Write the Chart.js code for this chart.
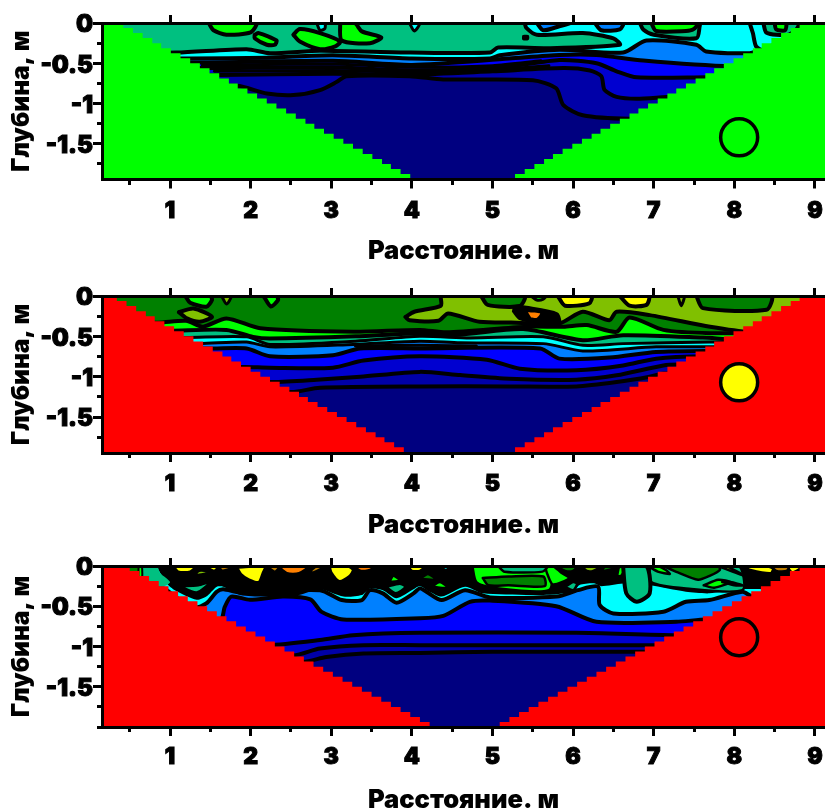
<!DOCTYPE html>
<html>
<head>
<meta charset="utf-8">
<style>
  html, body { margin: 0; padding: 0; background: #fff; overflow: hidden; }
  canvas { position: absolute; left: 0; }
</style>
<script src="https://cdn.jsdelivr.net/npm/chart.js@4"></script>
</head>
<body>
<canvas id="panel1" width="825" height="270" style="top:0"></canvas>
<canvas id="panel2" width="825" height="270" style="top:270px"></canvas>
<canvas id="panel3" width="825" height="272" style="top:540px"></canvas>
<script>
// Axis values
const xTicks = [1, 2, 3, 4, 5, 6, 7, 8, 9];
const xMinorTicks = [0.5, 1.5, 2.5, 3.5, 4.5, 5.5, 6.5, 7.5, 8.5];
const yTicks = [0, -0.5, -1, -1.5];
const yMinorTicks = [-0.25, -0.75, -1.25, -1.75];
const yMinorTicksLong = [-0.25, -0.75, -1.25, -1.75, -2];
const xTitle = "Расстояние. м";
const yTitle = "Глубина, м";

// Palette
const navy = "#000080", deep = "#0000a8", strong = "#0000d0", blue = "#0000ff", sky = "#0080ff";
const cyan = "#00ffff", teal = "#00c080", lime = "#00ff00", forest = "#008000", olive = "#80c000";
const yellow = "#ffff00", orange = "#ff8000", brown = "#c08000", black = "#000000", red = "#ff0000";

// Stair steps of the blanked flanks: depths shared, x read per panel
const stairY = [0, -0.0625, -0.125, -0.1875, -0.25, -0.3125, -0.375, -0.4375, -0.5, -0.5625, -0.625, -0.6875, -0.75, -0.8125, -0.875, -0.9375, -1, -1.0625, -1.125, -1.1875, -1.25, -1.3125, -1.375, -1.4375, -1.5, -1.5625, -1.625, -1.6875, -1.75, -1.8125, -1.875, -1.9375, -2];
const p1LeftX = [0.3, 0.42, 0.54, 0.66, 0.78, 0.89, 1.01, 1.13, 1.25, 1.37, 1.49, 1.61, 1.73, 1.84, 1.96, 2.08, 2.2, 2.32, 2.44, 2.56, 2.68, 2.79, 2.91, 3.03, 3.15, 3.27, 3.39, 3.51, 3.63, 3.74, 3.86, 3.98, 4.1];
const p2LeftX = [0.22, 0.34, 0.46, 0.58, 0.7, 0.81, 0.93, 1.05, 1.17, 1.29, 1.41, 1.53, 1.65, 1.76, 1.88, 2, 2.12, 2.24, 2.36, 2.48, 2.6, 2.71, 2.83, 2.95, 3.07, 3.19, 3.31, 3.43, 3.55, 3.66, 3.78, 3.9, 4.02];
const p3LeftX = [0.38, 0.5, 0.62, 0.74, 0.86, 0.98, 1.1, 1.22, 1.34, 1.46, 1.58, 1.7, 1.82, 1.94, 2.06, 2.18, 2.3, 2.42, 2.54, 2.66, 2.78, 2.9, 3.02, 3.14, 3.26, 3.38, 3.5, 3.62, 3.74, 3.86, 3.98, 4.1, 4.22];
const p1RightX = [8.93, 8.81, 8.7, 8.58, 8.46, 8.34, 8.23, 8.11, 7.99, 7.87, 7.75, 7.64, 7.52, 7.4, 7.28, 7.17, 7.05, 6.93, 6.81, 6.7, 6.58, 6.46, 6.34, 6.23, 6.11, 5.99, 5.87, 5.75, 5.64, 5.52, 5.4, 5.28, 5.17];
const p2RightX = [8.93, 8.81, 8.7, 8.58, 8.46, 8.34, 8.23, 8.11, 7.99, 7.87, 7.75, 7.64, 7.52, 7.4, 7.28, 7.17, 7.05, 6.93, 6.81, 6.7, 6.58, 6.46, 6.34, 6.23, 6.11, 5.99, 5.87, 5.75, 5.64, 5.52, 5.4, 5.28, 5.17];
const p3RightX = [8.93, 8.81, 8.69, 8.57, 8.45, 8.33, 8.21, 8.09, 7.97, 7.85, 7.73, 7.61, 7.49, 7.37, 7.25, 7.13, 7.01, 6.89, 6.77, 6.65, 6.53, 6.41, 6.29, 6.17, 6.05, 5.93, 5.81, 5.69, 5.57, 5.45, 5.33, 5.21, 5.09];

// Whole section behind the contours
const sectionBox = [[0, 0], [9.3, 0], [9.3, -2.2], [0, -2.2]];

// Panel 1 contours
const p1A = [[0.1, -0.76], [1.83, -0.78], [2.2, -0.875], [2.53, -0.895], [2.86, -0.833], [3.07, -0.73], [3.19, -0.66], [3.97, -0.66], [4.39, -0.7], [5.5, -0.71], [5.79, -0.81], [5.88, -1.02], [6.12, -1.146], [6.7, -1.19], [9.3, -1.2]];
const p1L1 = [[0.1, -0.64], [1.62, -0.645], [3.02, -0.63], [4, -0.64], [5, -0.6], [5.88, -0.56], [6.21, -0.59], [6.35, -0.66], [6.39, -0.83], [6.54, -0.917], [6.79, -0.94], [7.24, -0.917], [9.3, -0.9]];
const p1L2 = [[0.1, -0.56], [1.5, -0.56], [3.02, -0.55], [4, -0.59], [5.13, -0.55], [5.83, -0.46], [6.29, -0.5], [6.54, -0.6], [6.79, -0.675], [7.65, -0.675], [9.3, -0.67]];
const p1L3 = [[0.1, -0.49], [1.37, -0.49], [3.02, -0.47], [4, -0.52], [5.21, -0.44], [5.83, -0.396], [6.29, -0.396], [6.87, -0.467], [7.98, -0.54], [9.3, -0.54]];
const p1L4 = [[0.1, -0.44], [1.25, -0.44], [2.2, -0.43], [3.02, -0.4], [4, -0.44], [4.97, -0.44], [5.09, -0.4], [5.83, -0.333], [6.62, -0.367], [6.91, -0.217], [7.53, -0.27], [7.65, -0.354], [8.19, -0.375], [8.36, -0.325], [9.3, -0.32]];
const p1L5 = [[0.1, -0.367], [1.08, -0.367], [1.95, -0.325], [2.24, -0.375], [2.86, -0.345], [3.98, -0.367], [4.97, -0.367], [5.07, -0.305], [5.71, -0.313], [6.58, -0.27], [6.5, -0.19], [6.12, -0.125], [5.55, -0.146], [5.42, -0.06], [5.4, 0]];
const p1Extra1 = [[1.4, -0.525], [3.02, -0.51], [4, -0.55], [5, -0.53], [5.6, -0.47]];
const p1Extra2 = [[1.55, -0.6], [3.02, -0.59], [4, -0.61], [5, -0.58], [5.7, -0.53]];
const p1Isle1 = [[1.48, 0], [1.54, -0.09], [1.7, -0.146], [2, -0.117], [2.07, 0]];
const p1Isle2 = [[2.05, -0.146], [2.1, -0.125], [2.32, -0.217], [2.3, -0.27], [2.2, -0.27], [2.05, -0.19]];
const p1Isle3 = [[2.53, -0.146], [2.61, -0.075], [2.86, -0.125], [3.11, -0.23], [3.05, -0.29], [2.86, -0.325], [2.61, -0.23]];
const p1Isle4 = [[3.11, 0], [3.13, -0.217], [3.48, -0.25], [3.62, -0.18], [3.38, -0.104], [3.29, 0]];
const p1Isle5 = [[2.82, 0], [2.86, -0.09], [2.92, -0.07], [2.92, 0]];
const p1Isle6 = [[3.97, 0], [4.03, -0.1], [4.1, 0]];
const p1Isle7 = [[5.38, -0.16], [5.44, -0.16], [5.44, -0.2], [5.38, -0.2]];
const p1Top1 = [[5.55, 0], [5.63, -0.09], [5.83, -0.04], [5.96, 0]];
const p1Top2 = [[6.27, 0], [6.35, -0.09], [6.58, -0.08], [6.62, 0]];
const p1Ring = [[6.83, 0], [6.87, -0.08], [7, -0.146], [7.53, -0.19], [7.57, -0.04], [7.57, 0]];
const p1RingCore = [[6.97, 0], [7.03, -0.1], [7.4, -0.1], [7.49, -0.08], [7.55, 0]];
const p1Right = [[8.19, 0], [8.23, -0.125], [8.27, -0.29], [8.36, -0.34], [9.3, -0.34], [9.3, 0]];
const p1RightTeal = [[8.38, -0.34], [8.5, -0.22], [8.9, -0.1], [9.3, -0.1], [9.3, -0.34]];
const p1RightLoop = [[8.36, 0], [8.4, -0.12], [8.65, -0.15], [8.77, -0.08], [8.8, 0]];
const p1RightCore = [[8.5, 0], [8.52, -0.08], [8.63, -0.09], [8.64, 0]];

// Panel 2 contours
const p2C1 = [[0.1, -1.19], [2.51, -1.19], [2.86, -1.137], [4.1, -1.12], [5.21, -1.12], [6.04, -1.12], [6.54, -1.066], [6.95, -1], [7.12, -0.96], [9.3, -0.95]];
const p2C2 = [[0.1, -1.07], [2.28, -1.066], [2.82, -1.037], [3.36, -1], [4.1, -0.94], [4.6, -0.98], [5.21, -1.025], [6.04, -1.037], [6.54, -0.983], [7.12, -0.86], [7.32, -0.85], [9.3, -0.85]];
const p2C3 = [[0.1, -0.88], [1.93, -0.88], [2.24, -0.888], [3.02, -0.888], [3.4, -0.8], [4.1, -0.747], [4.93, -0.79], [5.34, -0.9], [6.04, -0.92], [6.62, -0.86], [7.03, -0.776], [7.61, -0.747], [9.3, -0.74]];
const p2C4 = [[0.1, -0.65], [1.54, -0.65], [1.95, -0.65], [2.24, -0.747], [3.02, -0.734], [3.36, -0.65], [4.1, -0.65], [5.59, -0.65], [5.83, -0.776], [6.45, -0.763], [7.03, -0.693], [7.65, -0.68], [9.3, -0.68]];
const p2C5 = [[0.1, -0.59], [1.37, -0.59], [1.95, -0.57], [2.24, -0.63], [3.27, -0.6], [4.1, -0.56], [4.6, -0.58], [5.63, -0.59], [6.12, -0.68], [7.03, -0.63], [7.7, -0.63], [9.3, -0.63]];
const p2C6 = [[0.1, -0.515], [1.2, -0.515], [1.95, -0.506], [2.24, -0.6], [3.3, -0.56], [4.1, -0.5], [4.72, -0.52], [5.63, -0.506], [6.12, -0.61], [6.62, -0.59], [7.7, -0.57], [9.3, -0.57]];
const p2C7 = [[0.1, -0.43], [1, -0.43], [1.7, -0.42], [2.03, -0.506], [2.24, -0.527], [3.3, -0.5], [4.1, -0.46], [4.55, -0.48], [5.38, -0.41], [6.12, -0.548], [6.62, -0.486], [7.61, -0.515], [8.02, -0.54], [9.3, -0.54]];
const p2C8 = [[0.1, -0.33], [0.86, -0.33], [1.2, -0.307], [1.41, -0.38], [1.7, -0.278], [2.12, -0.4], [3.27, -0.444], [4.1, -0.42], [4.43, -0.45], [5.42, -0.38], [5.88, -0.38], [6.17, -0.36], [6.54, -0.444], [6.7, -0.266], [7.12, -0.42], [7.7, -0.46], [9.3, -0.46]];
const p2Extra = [[3.3, -0.62], [4.1, -0.61], [4.8, -0.62]];
const p2Olive = [[3.92, -0.26], [4.03, -0.195], [4.36, -0.12], [4.37, 0], [9.3, 0], [9.3, -0.45], [8.19, -0.444], [7.7, -0.38], [6.95, -0.237], [6.54, -0.195], [6.45, -0.3], [6.12, -0.195], [5.83, -0.34], [5.3, -0.33], [4.84, -0.32], [4.45, -0.216], [4.33, -0.307], [3.97, -0.3]];
const p2Dark1 = [[4.86, 0], [4.94, -0.11], [5.34, -0.124], [5.4, 0]];
const p2Dark2 = [[7.53, 0], [7.61, -0.15], [8.4, -0.17], [8.46, 0]];
const p2Sun1 = [[5.81, 0], [5.9, -0.12], [6.2, -0.09], [6.23, 0]];
const p2Sun2 = [[6.58, 0], [6.7, -0.12], [6.91, -0.11], [6.94, 0]];
const p2Nick = [[7.3, 0], [7.34, -0.12], [7.38, 0]];
const p2Blob = [[5.26, -0.19], [5.34, -0.28], [5.62, -0.34], [5.83, -0.35], [5.8, -0.22], [5.42, -0.14], [5.28, -0.13]];
const p2Ember = [[5.44, -0.2], [5.59, -0.215], [5.55, -0.27], [5.48, -0.265]];
const p2Spark = [[5.48, 0], [5.55, -0.05], [5.63, -0.04], [5.66, 0]];
const p2West1 = [[1.19, 0], [1.25, -0.083], [1.45, -0.133], [1.52, -0.05], [1.5, 0]];
const p2West2 = [[1.11, -0.2], [1.29, -0.154], [1.52, -0.257], [1.37, -0.32], [1.21, -0.278]];
const p2West3 = [[1.64, 0], [1.7, -0.1], [1.76, 0]];
const p2West4 = [[2.16, 0], [2.25, -0.13], [2.34, -0.05], [2.32, 0]];

// Panel 3 contours
const p3D1 = [[0.1, -1.19], [2.65, -1.19], [2.94, -1.13], [3.4, -1.087], [4.1, -1.08], [5, -1.066], [6.95, -1.066], [9.3, -1.066]];
const p3D2 = [[0.1, -1.11], [2.53, -1.11], [2.86, -1.025], [3.4, -0.983], [4.1, -0.983], [5.2, -0.983], [7.16, -0.983], [9.3, -0.983]];
const p3D3 = [[0.1, -0.983], [2.22, -0.983], [2.86, -0.92], [3.27, -0.86], [4.1, -0.83], [6.04, -0.83], [7.28, -0.86], [9.3, -0.86]];
const p3D4 = [[0.1, -0.67], [1.62, -0.67], [1.68, -0.506], [1.76, -0.38], [1.99, -0.42], [2.4, -0.38], [2.74, -0.415], [2.88, -0.57], [3.15, -0.664], [4.1, -0.65], [4.39, -0.62], [4.72, -0.445], [4.97, -0.43], [5.79, -0.5], [6.29, -0.693], [7.28, -0.693], [7.65, -0.664], [9.3, -0.66]];
const p3D5 = [[0.1, -0.28], [0.92, -0.28], [1.06, -0.38], [1.31, -0.515], [1.45, -0.465], [1.58, -0.32], [1.66, -0.29], [1.87, -0.33], [2.86, -0.3], [3.13, -0.423], [3.38, -0.423], [3.48, -0.3], [3.64, -0.34], [3.81, -0.456], [4.02, -0.34], [4.1, -0.278], [4.18, -0.32], [4.37, -0.423], [4.66, -0.3], [4.97, -0.39], [5.8, -0.38], [6.06, -0.3], [6.31, -0.257], [6.33, -0.485], [6.5, -0.59], [7.12, -0.568], [7.4, -0.444], [7.69, -0.423], [8.1, -0.32], [8.23, -0.38], [9.3, -0.38]];
const p3Mesh = [[0.83, 0], [0.88, -0.09], [0.96, -0.216], [1.06, -0.3], [1.33, -0.42], [1.45, -0.38], [1.58, -0.257], [1.66, -0.257], [1.87, -0.36], [2.16, -0.38], [2.6, -0.36], [2.86, -0.29], [3.15, -0.38], [3.38, -0.36], [3.48, -0.278], [3.64, -0.3], [3.81, -0.4], [4.02, -0.29], [4.1, -0.25], [4.22, -0.32], [4.37, -0.38], [4.66, -0.257], [4.88, -0.34], [5.63, -0.36], [6, -0.32], [6.08, -0.236], [6.27, -0.216], [6.35, -0.25], [6.62, -0.216], [6.95, -0.24], [7.4, -0.32], [7.69, -0.34], [8.05, -0.29], [8.5, -0.29], [9.3, -0.29], [9.3, 0]];
const p3West = [[0, -0.3], [0.92, -0.25], [1, -0.2], [0.88, -0.09], [0.83, 0], [0, 0]];
const p3Stripe1 = [[0.48, 0], [0.48, -0.13], [0.61, -0.13], [0.61, 0]];
const p3Stripe2 = [[0.61, 0], [0.61, -0.19], [0.65, -0.19], [0.65, 0]];
const p3BaseMid = [[4.75, 0], [5.7, 0], [5.7, -0.3], [5, -0.27], [4.8, -0.2]];
const p3BaseEast = [[6.95, 0], [8.05, 0], [8.1, -0.3], [7.4, -0.28], [6.97, -0.2]];
const p3Yellow = [
  [[1.04, 0], [1.1, -0.07], [1.25, -0.07], [1.32, 0]],
  [[1.42, 0], [1.55, -0.06], [1.6, 0]],
  [[1.83, -0.02], [1.88, -0.1], [1.98, -0.17], [2.1, -0.2], [2.15, -0.09], [2.18, 0]],
  [[2.98, 0], [3, -0.08], [3.1, -0.19], [3.22, -0.13], [3.27, -0.05], [3.2, 0]],
  [[3.95, 0], [4, -0.06], [4.1, -0.06], [4.17, 0]],
  [[8.08, 0], [8.2, -0.05], [8.45, -0.09], [8.48, -0.03], [8.35, 0]],
  [[8.65, 0], [8.72, -0.08], [8.85, 0]]
];
const p3Brown = [
  [[1.6, 0], [1.65, -0.06], [1.78, -0.02], [1.8, 0]],
  [[2.2, 0], [2.3, -0.07], [2.36, 0]],
  [[2.72, -0.08], [2.78, -0.08], [2.93, 0], [2.82, 0]],
  [[8.45, 0], [8.52, -0.06], [8.65, -0.06], [8.68, 0]]
];
const p3Orange = [
  [[2.34, 0], [2.45, -0.09], [2.6, -0.09], [2.72, 0]],
  [[3.28, 0], [3.36, -0.06], [3.48, -0.05], [3.52, 0]]
];
const p3Olive = [
  [[1.3, -0.12], [1.42, -0.1], [1.48, -0.07], [1.36, -0.06]],
  [[6.1, 0], [6.17, -0.06], [6.25, -0.06], [6.35, 0]],
  [[7.8, 0], [8.12, -0.12], [8, -0.05], [7.9, 0]]
];
const p3Lime = [
  [[3.72, -0.2], [3.77, -0.12], [3.85, -0.18]],
  [[4.25, -0.25], [4.35, -0.2], [4.45, -0.27], [4.35, -0.27]],
  [[5.65, 0], [5.68, -0.1], [5.75, -0.23], [5.95, -0.15], [5.85, -0.08], [5.75, 0]],
  [[6.57, 0], [6.55, -0.12], [6.6, -0.12], [6.65, 0]],
  [[6.93, 0], [7.05, -0.07], [7.2, -0.1], [7.15, -0.05], [7.05, 0]],
  [[7.62, -0.24], [7.8, -0.17], [7.95, -0.2], [7.75, -0.27]]
];
const p3Teal = [
  [[1.12, -0.25], [1.33, -0.33], [1.5, -0.2], [1.35, -0.24]],
  [[3.68, -0.26], [3.8, -0.34], [3.92, -0.26], [3.85, -0.22]],
  [[5.07, 0], [5.15, -0.07], [5.62, -0.07], [5.68, 0]],
  [[5.9, -0.26], [6, -0.2], [6.05, -0.22], [6, -0.3]],
  [[7.85, -0.2], [8, -0.24], [8.1, -0.24], [7.95, -0.2]]
];
const p3Forest = [
  [[4.1, -0.16], [4.2, -0.1], [4.3, -0.17]],
  [[4.88, -0.15], [5.2, -0.13], [5.63, -0.13], [5.65, -0.25], [5.2, -0.24], [4.95, -0.24]],
  [[5.8, 0], [5.9, -0.06], [6, -0.06], [6.05, 0]],
  [[6.35, -0.07], [6.55, -0.02], [6.62, 0], [6.4, 0]],
  [[7.12, 0], [7.3, -0.08], [7.55, -0.17], [7.7, -0.12], [7.82, -0.05], [7.8, 0]]
];
const p3Cyan = [
  [[4.35, 0], [4.42, -0.05], [4.48, 0]]
];
const p3Lobe = [[6.62, 0], [6.66, -0.34], [6.79, -0.444], [6.95, -0.34], [6.91, 0]];

// Electrode marker of each panel: x, depth
const p1Marker = [8.06, -1.42];
const p2Marker = [8.06, -1.07];
const p3Marker = [8.06, -0.885];

const X_MIN = 0.156, X_MAX = 9.125;
const LABEL_DROP = 0.025; // y labels sit a hair under their ticks
const TEXT_FONT = { family: "Inter, 'DejaVu Sans'", weight: 900 };
const W = 4;

// Each layer: points, colour, how the shape is closed, contour width. First in the list is painted first.
const p1Layers = [
  [sectionBox, navy, "loop", 0],
  [p1A, deep, "top", W], [p1L1, strong, "top", W], [p1L2, blue, "top", W], [p1L3, sky, "top", W],
  [p1L4, cyan, "top", W], [p1L5, teal, "top", W],
  [p1Extra1, null, "open", 3], [p1Extra2, null, "open", 3],
  [p1Isle1, lime, "loop", W], [p1Isle2, lime, "loop", W], [p1Isle3, lime, "loop", W], [p1Isle4, lime, "loop", W],
  [p1Isle5, cyan, "loop", 3], [p1Isle6, cyan, "loop", 3], [p1Isle7, black, "loop", 2],
  [p1Top1, sky, "loop", W], [p1Top2, sky, "loop", W], [p1Ring, teal, "loop", W], [p1RingCore, lime, "loop", W],
  [p1Right, cyan, "loop", W], [p1RightTeal, teal, "loop", 0], [p1RightLoop, teal, "loop", W], [p1RightCore, lime, "loop", W]
];
const p2Layers = [
  [sectionBox, navy, "loop", 0],
  [p2C1, deep, "top", W], [p2C2, strong, "top", W], [p2C3, blue, "top", W], [p2C4, sky, "top", W],
  [p2C5, cyan, "top", 3], [p2C6, teal, "top", 3], [p2C7, lime, "top", W], [p2C8, forest, "top", W],
  [p2Extra, null, "open", 3],
  [p2Olive, olive, "loop", W],
  [p2Dark1, forest, "loop", W], [p2Dark2, forest, "loop", W], [p2Sun1, yellow, "loop", W], [p2Sun2, yellow, "loop", W],
  [p2Nick, olive, "loop", 3], [p2Blob, black, "loop", 3], [p2Ember, orange, "loop", 0], [p2Spark, lime, "loop", 3],
  [p2West1, lime, "loop", W], [p2West2, olive, "loop", W], [p2West3, olive, "loop", 3], [p2West4, lime, "loop", W]
];
const p3Layers = [
  [sectionBox, navy, "loop", 0],
  [p3D1, deep, "top", W], [p3D2, strong, "top", W], [p3D3, blue, "top", W], [p3D4, sky, "top", W],
  [p3D5, cyan, "top", W], [p3Mesh, black, "loop", 0], [p3West, teal, "loop", 0],
  [p3Stripe1, forest, "loop", 0], [p3Stripe2, lime, "loop", 2],
  [p3BaseMid, lime, "loop", 2.5], [p3BaseEast, teal, "loop", 2.5]
];
[[p3Yellow, yellow], [p3Brown, brown], [p3Orange, orange], [p3Olive, olive], [p3Lime, lime], [p3Teal, teal], [p3Forest, forest], [p3Cyan, cyan]].forEach(([shapes, colour]) => {
  shapes.forEach(points => p3Layers.push([points, colour, "loop", 2.5]));
});
p3Layers.push([p3Lobe, teal, "loop", W]);

// Paints the region behind a contour before the library strokes it
const regionFill = {
  id: "regionFill",
  beforeDatasetDraw(chart, args) {
    const ds = chart.data.datasets[args.index];
    if (!ds.regionColor) return;
    const ctx = chart.ctx, area = chart.chartArea, meta = args.meta, pts = meta.data;
    ctx.save();
    ctx.beginPath();
    ctx.rect(area.left, area.top, area.width, area.height);
    ctx.clip();
    ctx.beginPath();
    meta.dataset.path(ctx);
    if (ds.regionClose === "top") {
      ctx.lineTo(pts[pts.length - 1].x, area.top);
      ctx.lineTo(pts[0].x, area.top);
    }
    ctx.closePath();
    ctx.fillStyle = ds.regionColor;
    ctx.fill();
    ctx.restore();
  }
};

function layerDataset([points, color, close, width]) {
  const line = close === "loop" && width ? points.concat([points[0]]) : points;
  return {
    data: line.map(([x, y]) => ({ x, y })),
    showLine: true, pointRadius: 0, borderColor: "#000", borderWidth: width, tension: 0.25,
    borderJoinStyle: "round", borderCapStyle: "round", regionColor: color, regionClose: close
  };
}

function blankDataset(points, color) {
  return {
    data: points.map(([x, y]) => ({ x, y })),
    showLine: true, pointRadius: 0, borderWidth: 0, stepped: true, regionColor: color, regionClose: "loop"
  };
}

function leftBlank(xs) {
  return [[0, 0]].concat(xs.map((x, i) => [x, stairY[i]]), [[xs[xs.length - 1], -2.2], [0, -2.2]]);
}
function rightBlank(xs) {
  return [[9.3, 0]].concat(xs.map((x, i) => [x, stairY[i]]), [[xs[xs.length - 1], -2.2], [9.3, -2.2]]);
}

function drawPanel(id, cfg) {
  const canvas = document.getElementById(id);
  const datasets = cfg.layers.map(layerDataset);
  datasets.push(blankDataset(leftBlank(cfg.leftX), cfg.blank));
  datasets.push(blankDataset(rightBlank(cfg.rightX), cfg.blank));
  datasets.push({
    data: [{ x: cfg.marker[0], y: cfg.marker[1] }], showLine: false, pointRadius: 18.5,
    pointBackgroundColor: cfg.markerFill, pointBorderColor: "#000", pointBorderWidth: 3.5
  });
  const setTicks = values => scale => { scale.ticks = values.map(value => ({ value })); };
  const line = { color: "#000", width: 3, z: 1 };
  const tick = length => ({ drawOnChartArea: false, tickLength: length, tickWidth: 3, tickColor: "#000", z: 1 });
  new Chart(canvas, {
    type: "scatter",
    // the library paints the last dataset first, so the list is flipped
    data: { datasets: datasets.reverse() },
    plugins: [regionFill],
    options: {
      responsive: false, animation: false, devicePixelRatio: 1,
      layout: { padding: 0, autoPadding: false },
      plugins: { legend: { display: false }, tooltip: { enabled: false } },
      scales: {
        x: {
          type: "linear", position: "bottom", min: X_MIN, max: X_MAX,
          afterBuildTicks: setTicks(xTicks),
          afterFit: scale => { scale.height = canvas.height - cfg.bottom; scale.paddingLeft = 0; scale.paddingRight = 0; },
          grid: tick(9), border: line,
          ticks: { autoSkip: false, maxRotation: 0, padding: cfg.xPad, color: "#000", font: { ...TEXT_FONT, size: 23 }, textStrokeColor: "#000", textStrokeWidth: 1, callback: v => String(v) },
          title: { display: true, text: xTitle, color: "#000", font: { ...TEXT_FONT, size: 25.5 }, padding: { top: 0, bottom: cfg.titlePad } }
        },
        xTop: {
          type: "linear", axis: "x", position: "top", min: X_MIN, max: X_MAX,
          afterBuildTicks: setTicks(xTicks),
          afterFit: scale => { scale.height = cfg.top; },
          grid: tick(8), border: line, ticks: { display: false }
        },
        xMinor: {
          type: "linear", axis: "x", position: { y: cfg.yMin }, min: X_MIN, max: X_MAX,
          afterBuildTicks: setTicks(xMinorTicks),
          afterFit: scale => { scale.height = 0; },
          grid: tick(5), border: { display: false }, ticks: { display: false }
        },
        y: {
          type: "linear", position: "left", min: cfg.yMin, max: 0, weight: 0,
          afterBuildTicks: setTicks(yTicks),
          afterFit: scale => { scale.width = 0; scale.paddingTop = 0; scale.paddingBottom = 0; },
          grid: tick(9), border: line, ticks: { display: false }
        },
        yLabels: {
          type: "linear", axis: "y", position: "left", min: cfg.yMin + LABEL_DROP, max: LABEL_DROP, weight: 1,
          afterBuildTicks: setTicks(yTicks),
          afterFit: scale => { scale.width = 102; scale.paddingTop = 0; scale.paddingBottom = 0; },
          grid: { display: false, drawTicks: false }, border: { display: false },
          ticks: { autoSkip: false, padding: 9, color: "#000", font: { ...TEXT_FONT, size: 24 }, textStrokeColor: "#000", textStrokeWidth: 1, callback: v => String(v) },
          title: { display: true, text: yTitle, color: "#000", font: { ...TEXT_FONT, size: 24.5 }, padding: { top: 7, bottom: 0 } }
        },
        yMinor: {
          type: "linear", axis: "y", position: { x: X_MIN }, min: cfg.yMin, max: 0,
          afterBuildTicks: setTicks(cfg.yMinor),
          afterFit: scale => { scale.width = 0; },
          grid: tick(5), border: { display: false }, ticks: { display: false }
        }
      }
    }
  });
}

drawPanel("panel1", { layers: p1Layers, leftX: p1LeftX, rightX: p1RightX, blank: lime, marker: p1Marker, markerFill: lime, yMin: -1.943, yMinor: yMinorTicks, top: 23, bottom: 179.5, xPad: 9, titlePad: 3.7 });
drawPanel("panel2", { layers: p2Layers, leftX: p2LeftX, rightX: p2RightX, blank: red, marker: p2Marker, markerFill: yellow, yMin: -1.945, yMinor: yMinorTicks, top: 26, bottom: 183, xPad: 8, titlePad: -0.3 });
drawPanel("panel3", { layers: p3Layers, leftX: p3LeftX, rightX: p3RightX, blank: red, marker: p3Marker, markerFill: red, yMin: -2, yMinor: yMinorTicksLong, top: 26, bottom: 187, xPad: 7, titlePad: -3.3 });
</script>
</body>
</html>
